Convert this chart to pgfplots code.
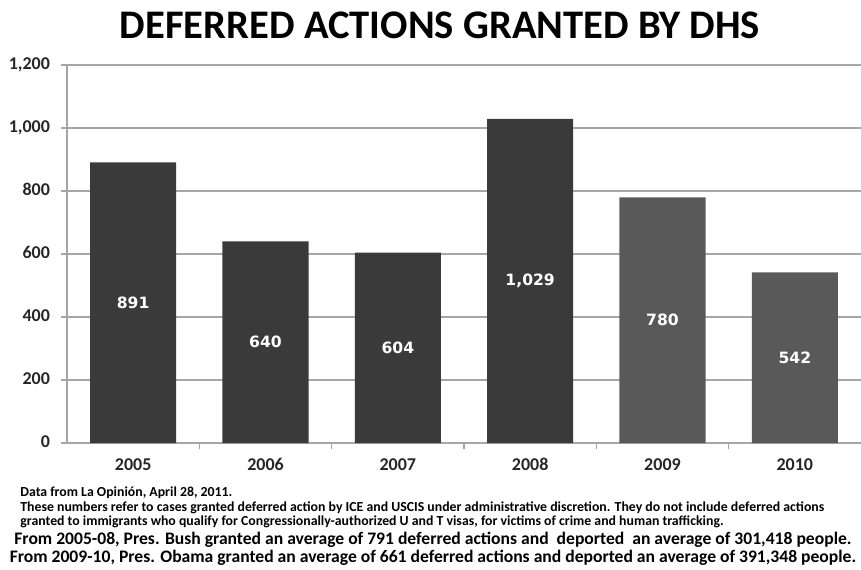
\documentclass[border=0pt]{standalone}
\usepackage{fontspec}
\setmainfont{Carlito}
\newfontfamily\dejavu{DejaVu Sans}
\usepackage{pgfplots}
\pgfplotsset{compat=1.18}
\definecolor{barA}{HTML}{3A3A3A}
\definecolor{barB}{HTML}{595959}
\definecolor{gridc}{HTML}{A6A6A6}
\begin{document}
\begin{tikzpicture}
\path[use as bounding box] (-33.5pt,-63pt) rectangle (397pt,221.5pt);
\begin{axis}[
  at={(0pt,0pt)}, anchor=south west,
  scale only axis, width=397pt, height=189pt,
  xmin=-0.5, xmax=5.5, ymin=0, ymax=1200,
  axis x line*=bottom, axis y line*=left,
  axis line style={gridc, line width=0.8pt},
  ytick={0,200,...,1200},
  ymajorgrids, grid style={gridc, line width=0.8pt},
  xtick={0,...,5},
  xticklabels={2005,2006,2007,2008,2009,2010},
  major x tick style={draw=none},
  minor xtick={0.5,1.5,...,4.5},
  minor x tick style={gridc, line width=0.6pt},
  minor tick length=3pt,
  major tick length=3pt,
  tick align=outside,
  y tick style={gridc, line width=0.8pt},
  /pgf/number format/assume math mode=true,
  /pgf/number format/1000 sep={,},
  ticklabel style={font=\bfseries\fontsize{9}{10}\selectfont, text=black!85},
  typeset ticklabels with strut,
  yticklabel style={xshift=-2pt},
  xticklabel style={yshift=0pt},
  ybar, bar width=0.65, bar shift=0pt,
  clip=false,
]
\addplot[fill=barA, draw=none] coordinates {(0,891) (1,640) (2,604) (3,1029)};
\addplot[fill=barB, draw=none] coordinates {(4,780) (5,542)};
\addplot[draw=none, mark=none, nodes near coords, point meta=explicit symbolic,
  every node near coord/.style={anchor=center, text=white, font=\dejavu\bfseries\fontsize{7.8}{8}\selectfont}]
  coordinates {(0,445.5)[891] (1,320)[640] (2,302)[604] (3,514.5)[1,029] (4,390)[780] (5,271)[542]};
\end{axis}
\node[font=\bfseries\fontsize{20.3}{23}\selectfont] at (186.5pt,209pt) {DEFERRED ACTIONS GRANTED BY DHS};
\node[anchor=west, font=\bfseries\fontsize{6.9}{7}\selectfont, inner sep=0pt] at (-23.5pt,-25pt) {Data from La Opinión, April 28, 2011.};
\node[anchor=west, font=\bfseries\fontsize{6.9}{7}\selectfont, inner sep=0pt] at (-23.5pt,-32.5pt) {These numbers refer to cases granted deferred action by ICE and USCIS under administrative discretion. They do not include deferred actions};
\node[anchor=west, font=\bfseries\fontsize{6.9}{7}\selectfont, inner sep=0pt] at (-23.5pt,-39.5pt) {granted to immigrants who qualify for Congressionally-authorized U and T visas, for victims of crime and human trafficking.};
\node[font=\bfseries\fontsize{8.8}{10}\selectfont, inner sep=0pt] at (183pt,-48.5pt) {From 2005-08, Pres. Bush granted an average of 791 deferred actions and\ \ deported\ \ an average of 301,418 people.};
\node[font=\bfseries\fontsize{8.8}{10}\selectfont, inner sep=0pt] at (183pt,-57.5pt) {From 2009-10, Pres. Obama granted an average of 661 deferred actions and deported an average of 391,348 people.};
\end{tikzpicture}
\end{document}
